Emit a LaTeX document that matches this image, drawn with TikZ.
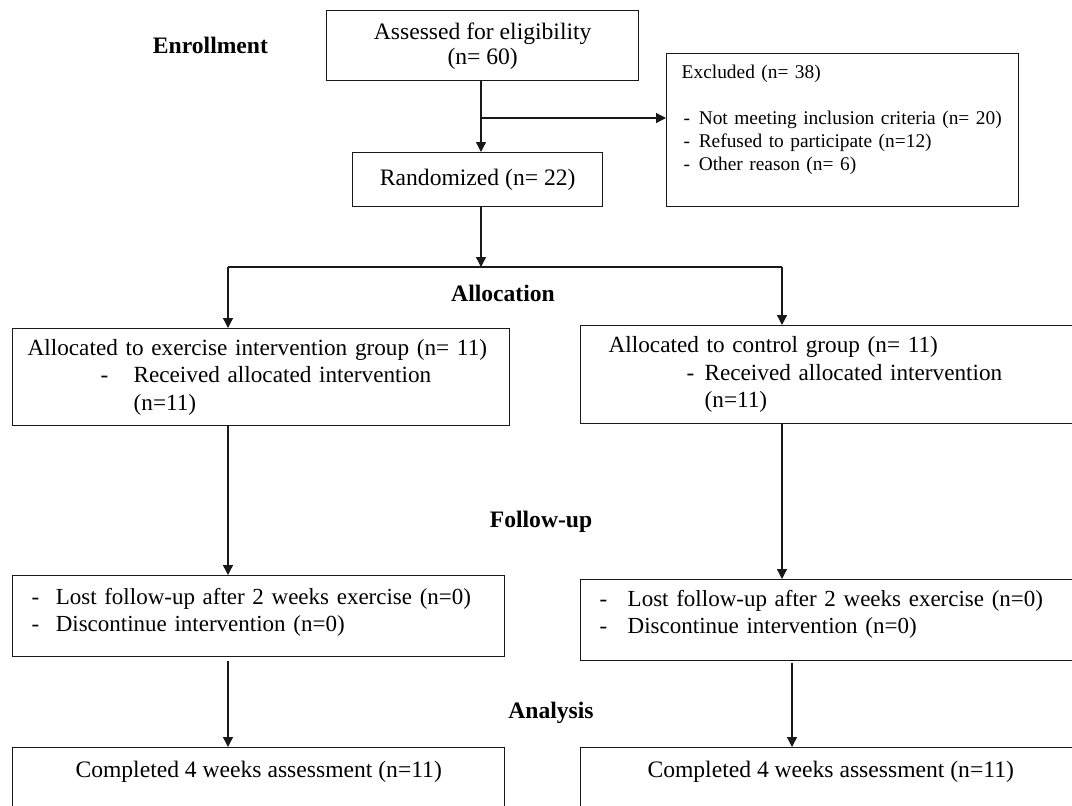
\documentclass[tikz,border=0pt]{standalone}
\usepackage{fontspec}
\setmainfont{Liberation Serif}
\usetikzlibrary{positioning,arrows.meta}
\definecolor{cfLine}{RGB}{25,25,25}
\definecolor{cfText}{RGB}{0,0,0}
\tikzset{
    base/.style={font=\fontsize{11.8}{13.7}\selectfont, text=cfText},
    box/.style={base, rectangle, draw=cfLine, line width=0.7pt, anchor=north west},
    textbox/.style={box, inner xsep=2pt, inner ysep=2pt, align=left},
    stage/.style={base, font=\fontsize{11.8}{13.7}\selectfont\bfseries},
    flow/.style={-{Triangle[length=5pt,width=5pt]}, line width=0.65pt, color=cfLine},
    link/.style={line width=0.65pt, color=cfLine}
}

\begin{document}
\begin{tikzpicture}[x=0.5pt, y=-0.5pt]
  \useasboundingbox (0,0) rectangle (1072,805);
  \clip (0,0) rectangle (1072,805);

  % Enrollment
  \node[box, minimum width=156pt, minimum height=35pt, inner sep=0pt, align=center] (assess) at (326,10)
    {Assessed for eligibility\\[-1.2pt](n= 60)};
  \node[stage, left=25.5pt of assess] (enroll) {Enrollment};
  \node[box, minimum width=125pt, minimum height=27pt, inner sep=0pt, align=center] (rand) at (352,152)
    {Randomized (n= 22)};
  \node[textbox, font=\fontsize{9.7}{11.5}\selectfont, minimum height=76.5pt, text width=172pt] (excl) at (666,53)
    {\hspace*{5.5pt}Excluded (n= 38)\\[11.5pt]
     \hspace*{6.5pt}-\hspace{4.3pt}Not meeting inclusion criteria (n= 20)\\
     \hspace*{6.5pt}-\hspace{4.3pt}Refused to participate (n=12)\\
     \hspace*{6.5pt}-\hspace{4.3pt}Other reason (n= 6)\par\vspace*{10.8pt}};

  \coordinate (split) at (481,118);
  \draw[flow] (assess.south -| split) -- (split |- rand.north);
  \draw[flow] (split) -- (split -| excl.west);

  % Allocation
  \coordinate (fork) at (481,267);
  \coordinate (forkL) at (228,267);
  \coordinate (forkR) at (782,267);
  \draw[flow] (rand.south -| fork) -- (fork);
  \draw[link] (forkL) -- (forkR);
  \node[stage] (alloc) at (503,293) {Allocation};

  \node[textbox, font=\fontsize{11.6}{13.7}\selectfont, minimum height=48.5pt, text width=244.5pt] (allocL) at (12,328)
    {\hspace*{5.5pt}Allocated to exercise intervention group (n= 11)\\
     \hspace*{42pt}-\hspace{12.6pt}Received allocated intervention\\
     \hspace*{58.5pt}(n=11)};
  \node[textbox, font=\fontsize{11.6}{13.7}\selectfont, minimum height=49pt, text width=246pt] (allocR) at (580,325)
    {\hspace*{12pt}Allocated to control group (n= 11)\\
     \hspace*{51pt}-\hspace{5.1pt}Received allocated intervention\\
     \hspace*{60pt}(n=11)};
  \draw[flow] (forkL) -- (forkL |- allocL.north);
  \draw[flow] (forkR) -- (forkR |- allocR.north);

  % Follow-up
  \node[stage] (follow) at (541,522) {Follow-up};
  \node[textbox, font=\fontsize{11.5}{13.6}\selectfont, minimum height=40.5pt, text width=242pt] (fuL) at (12,575)
    {\hspace*{7.5pt}-\hspace{8.2pt}Lost follow-up after 2 weeks exercise (n=0)\\
     \hspace*{7.5pt}-\hspace{8.2pt}Discontinue intervention (n=0)\par\vspace*{4pt}};
  \node[textbox, font=\fontsize{11.5}{13.6}\selectfont, minimum height=40.5pt, text width=246pt] (fuR) at (580,579)
    {\hspace*{7.5pt}-\hspace{10.2pt}Lost follow-up after 2 weeks exercise (n=0)\\
     \hspace*{7.5pt}-\hspace{10.2pt}Discontinue intervention (n=0)\par\vspace*{6pt}};
  \draw[flow] (forkL |- allocL.south) -- (forkL |- fuL.north);
  \draw[flow] (forkR |- allocR.south) -- (forkR |- fuR.north);

  % Analysis
  \node[stage] (analysis) at (551,713) {Analysis};
  \node[box, minimum width=246pt, inner ysep=4pt, text height=11pt, text depth=40pt] (doneL) at (12,747)
    {Completed 4 weeks assessment (n=11)};
  \node[box, minimum width=250pt, inner ysep=4pt, text height=11pt, text depth=40pt] (doneR) at (580,747)
    {Completed 4 weeks assessment (n=11)};
  \coordinate (dropR) at (792,661);
  \draw[flow, shorten <=2pt] (fuL.south -| forkL) -- (forkL |- doneL.north);
  \draw[flow, shorten <=1pt] (fuR.south -| dropR) -- (dropR |- doneR.north);
\end{tikzpicture}
\end{document}
